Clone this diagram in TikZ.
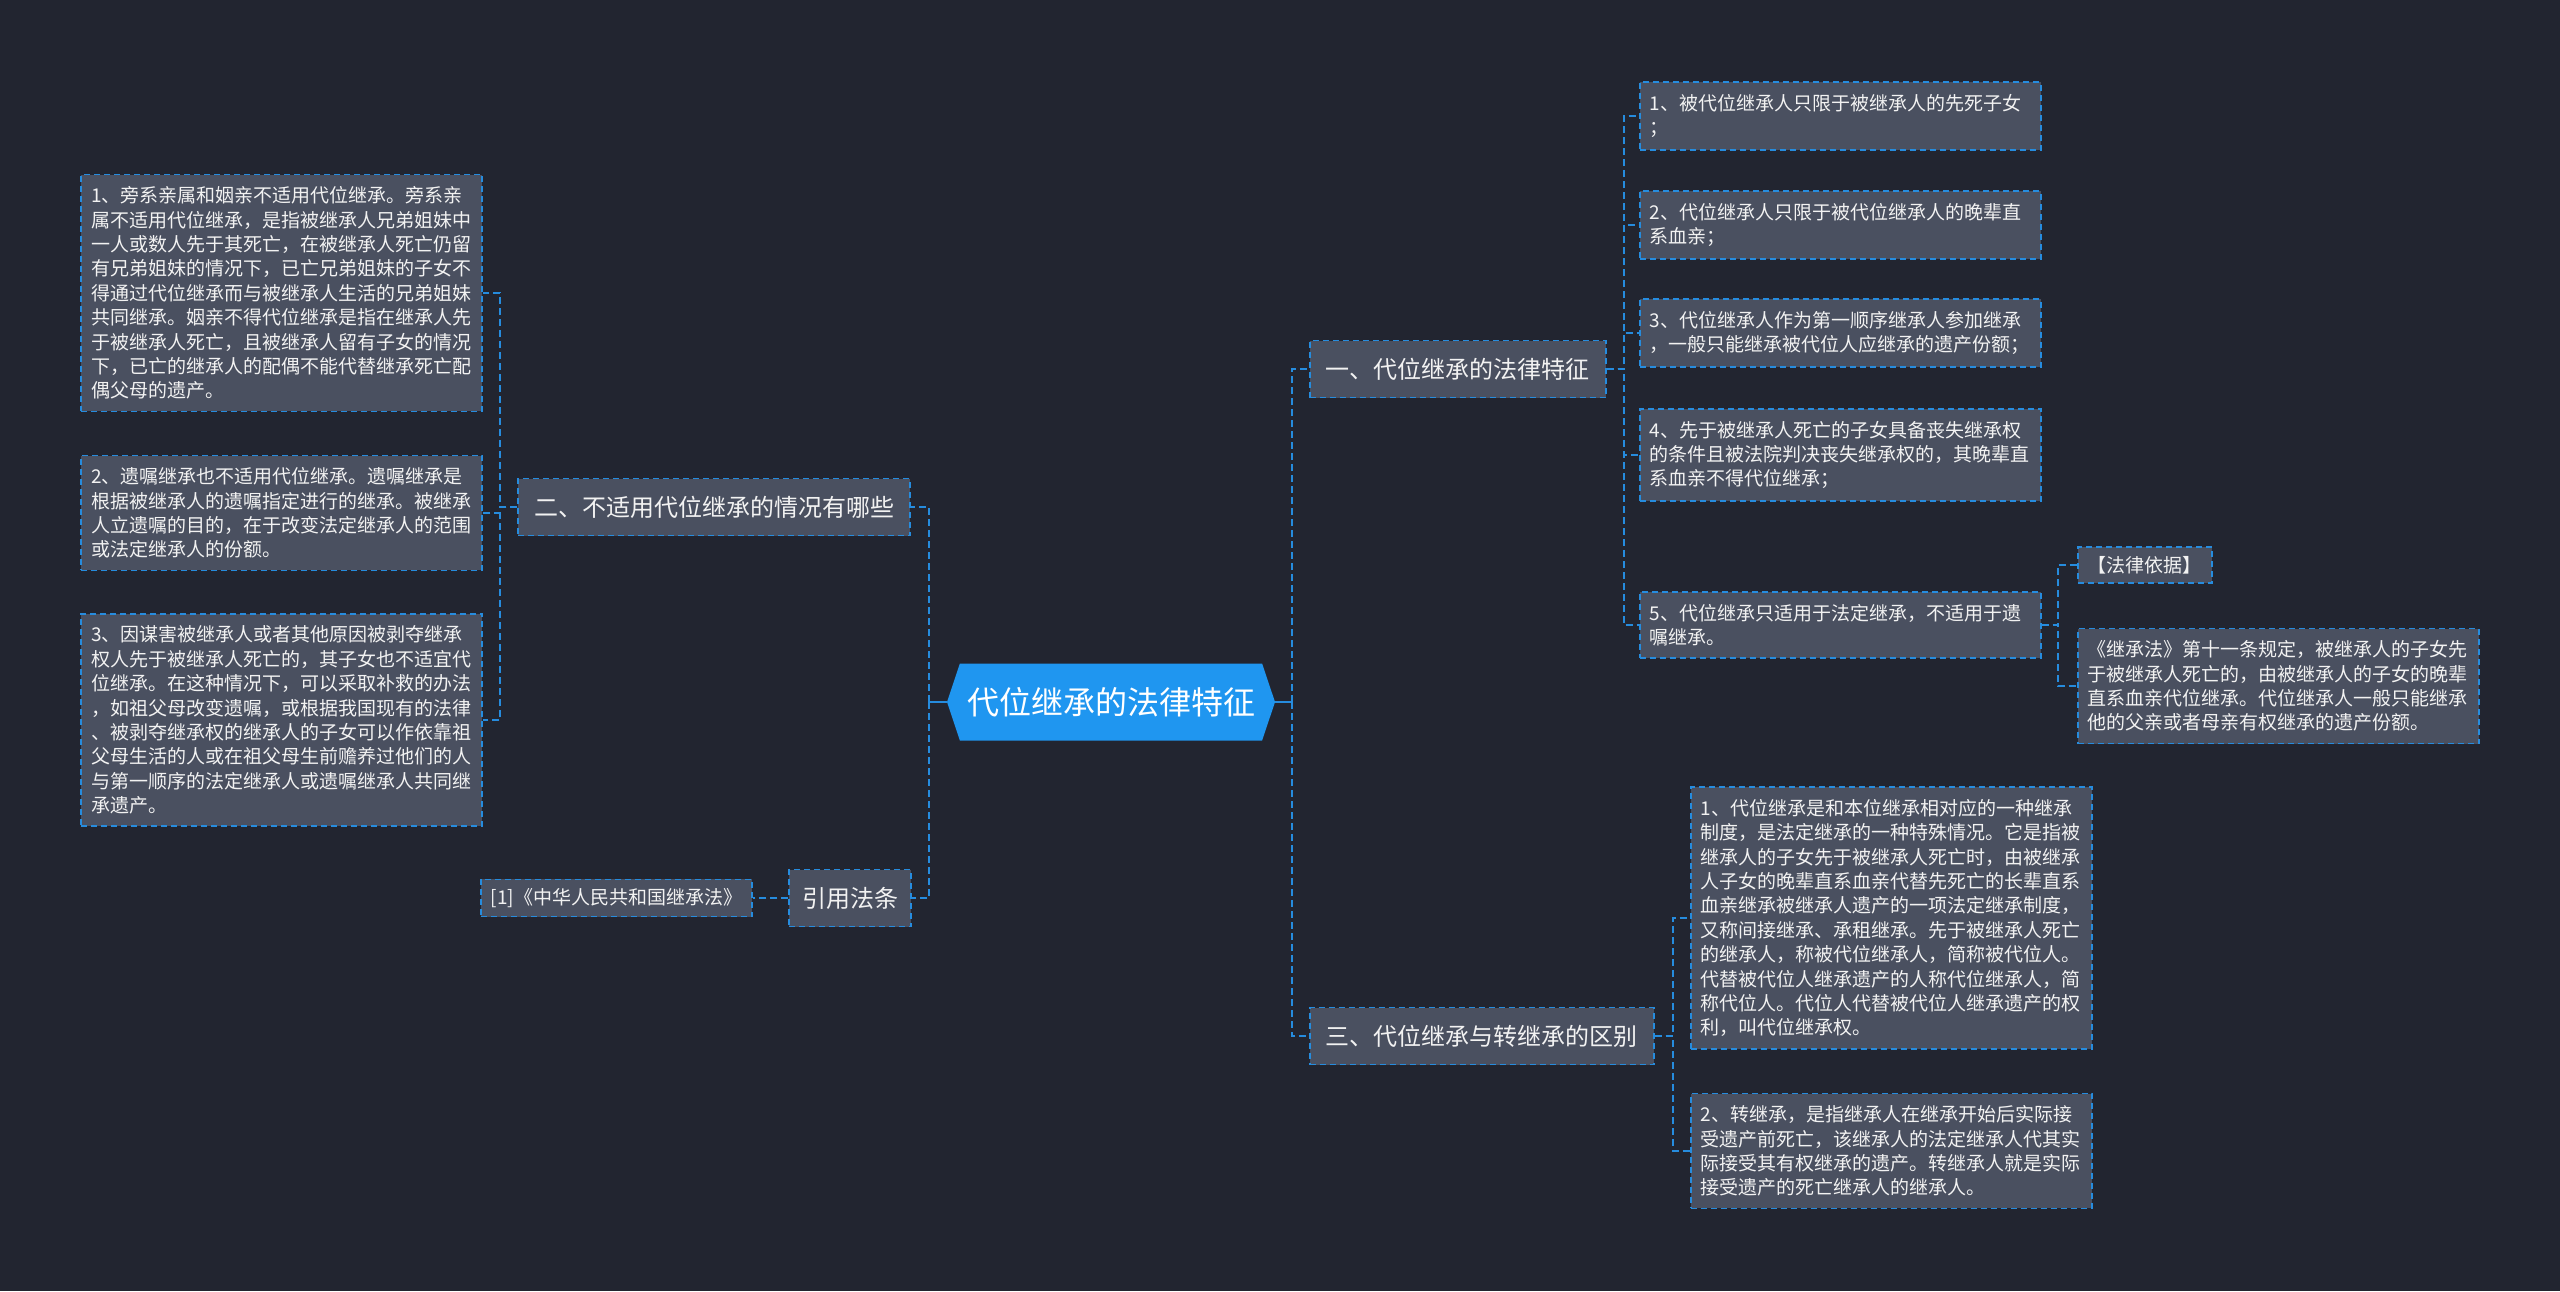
\documentclass[tikz,border=0pt]{standalone}
\usepackage{fontspec}
\setmainfont{Noto Sans CJK SC}
\usepackage{tikz}
\usetikzlibrary{shapes.symbols}
\definecolor{bgdark}{RGB}{34,37,48}
\definecolor{boxgray}{RGB}{74,80,96}
\definecolor{linkblue}{RGB}{38,140,222}
\definecolor{rootblue}{RGB}{31,150,240}
\definecolor{textwhite}{RGB}{242,242,242}
\tikzset{
  root/.style={shape=signal, signal to=west and east, signal pointer angle=143,
    fill=rootblue, text=white, font=\fontsize{32}{38}\selectfont,
    minimum width=328, minimum height=77, inner sep=0pt},
  topic/.style={fill=boxgray, draw=linkblue, line width=1.6pt, dash pattern=on 6pt off 4pt,
    text=textwhite, font=\fontsize{24}{29}\selectfont, minimum height=57, inner xsep=16pt},
  leaf/.style={fill=boxgray, draw=linkblue, line width=1.6pt, dash pattern=on 6pt off 4pt,
    text=textwhite, font=\fontsize{19}{24.4}\selectfont, align=left, inner xsep=10pt, inner ysep=12pt},
  wide/.style={text width=381pt},
  link/.style={draw=linkblue, line width=2pt, dash pattern=on 7pt off 4pt},
  stem/.style={draw=linkblue, line width=2.5pt},
}

\begin{document}
\begin{tikzpicture}[x=1pt,y=-1pt]
\fill[bgdark] (0,0) rectangle (2560,1291);
\node[root] (root) at (1111,702) {代位继承的法律特征};
\coordinate (lj) at (929,702);
\coordinate (rj) at (1292,702);
% left side
\node[topic, anchor=east] (two) at (911,507) {二、不适用代位继承的情况有哪些};
\node[topic, anchor=east, inner xsep=13pt] (cite) at (912,898) {引用法条};
\node[leaf, anchor=east, inner ysep=9pt] (law) at (753,898) {[1]《中华人民共和国继承法》};
\node[leaf, wide, anchor=east] (b1) at (483,293) {1、旁系亲属和姻亲不适用代位继承。旁系亲\\属不适用代位继承，是指被继承人兄弟姐妹中\\一人或数人先于其死亡，在被继承人死亡仍留\\有兄弟姐妹的情况下，已亡兄弟姐妹的子女不\\得通过代位继承而与被继承人生活的兄弟姐妹\\共同继承。姻亲不得代位继承是指在继承人先\\于被继承人死亡，且被继承人留有子女的情况\\下，已亡的继承人的配偶不能代替继承死亡配\\偶父母的遗产。};
\node[leaf, wide, anchor=east] (b2) at (483,513) {2、遗嘱继承也不适用代位继承。遗嘱继承是\\根据被继承人的遗嘱指定进行的继承。被继承\\人立遗嘱的目的，在于改变法定继承人的范围\\或法定继承人的份额。};
\node[leaf, wide, anchor=east] (b3) at (483,720) {3、因谋害被继承人或者其他原因被剥夺继承\\权人先于被继承人死亡的，其子女也不适宜代\\位继承。在这种情况下，可以采取补救的办法\\，如祖父母改变遗嘱，或根据我国现有的法律\\、被剥夺继承权的继承人的子女可以作依靠祖\\父母生活的人或在祖父母生前赡养过他们的人\\与第一顺序的法定继承人或遗嘱继承人共同继\\承遗产。};
% right side
\node[topic, anchor=west] (one) at (1309,369) {一、代位继承的法律特征};
\node[topic, anchor=west] (three) at (1309,1036) {三、代位继承与转继承的区别};
\node[leaf, wide, anchor=west] (a1) at (1639,116) {1、被代位继承人只限于被继承人的先死子女\\；};
\node[leaf, wide, anchor=west] (a2) at (1639,225) {2、代位继承人只限于被代位继承人的晚辈直\\系血亲；};
\node[leaf, wide, anchor=west] (a3) at (1639,333) {3、代位继承人作为第一顺序继承人参加继承\\，一般只能继承被代位人应继承的遗产份额；};
\node[leaf, wide, anchor=west] (a4) at (1639,455) {4、先于被继承人死亡的子女具备丧失继承权\\的条件且被法院判决丧失继承权的，其晚辈直\\系血亲不得代位继承；};
\node[leaf, wide, anchor=west] (a5) at (1639,625) {5、代位继承只适用于法定继承，不适用于遗\\嘱继承。};
\node[leaf, anchor=west, inner ysep=9pt] (basis) at (2077,565) {【法律依据】};
\node[leaf, wide, anchor=west] (art) at (2077,686) {《继承法》第十一条规定，被继承人的子女先\\于被继承人死亡的，由被继承人的子女的晚辈\\直系血亲代位继承。代位继承人一般只能继承\\他的父亲或者母亲有权继承的遗产份额。};
\node[leaf, wide, anchor=west] (c1) at (1690,918) {1、代位继承是和本位继承相对应的一种继承\\制度，是法定继承的一种特殊情况。它是指被\\继承人的子女先于被继承人死亡时，由被继承\\人子女的晚辈直系血亲代替先死亡的长辈直系\\血亲继承被继承人遗产的一项法定继承制度，\\又称间接继承、承租继承。先于被继承人死亡\\的继承人，称被代位继承人，简称被代位人。\\代替被代位人继承遗产的人称代位继承人，简\\称代位人。代位人代替被代位人继承遗产的权\\利，叫代位继承权。};
\node[leaf, wide, anchor=west] (c2) at (1690,1151) {2、转继承，是指继承人在继承开始后实际接\\受遗产前死亡，该继承人的法定继承人代其实\\际接受其有权继承的遗产。转继承人就是实际\\接受遗产的死亡继承人的继承人。};
% connectors
\draw[stem] (root.west) -- (lj);
\draw[stem] (root.east) -- (rj);
\draw[link] (lj) |- (two.east);
\draw[link] (lj) |- (cite.east);
\draw[link] (rj) |- (one.west);
\draw[link] (rj) |- (three.west);
\draw[link] (cite.west) -- (law.east);
\foreach \b in {b1,b2,b3}
  \draw[link] (two.west) -- ++(-17,0) |- (\b.east);
\foreach \a in {a1,a2,a3,a4,a5}
  \draw[link] (one.east) -- ++(17,0) |- (\a.west);
\foreach \a in {basis,art}
  \draw[link] (a5.east) -- ++(16,0) |- (\a.west);
\foreach \c in {c1,c2}
  \draw[link] (three.east) -- ++(18,0) |- (\c.west);
\end{tikzpicture}
\end{document}
